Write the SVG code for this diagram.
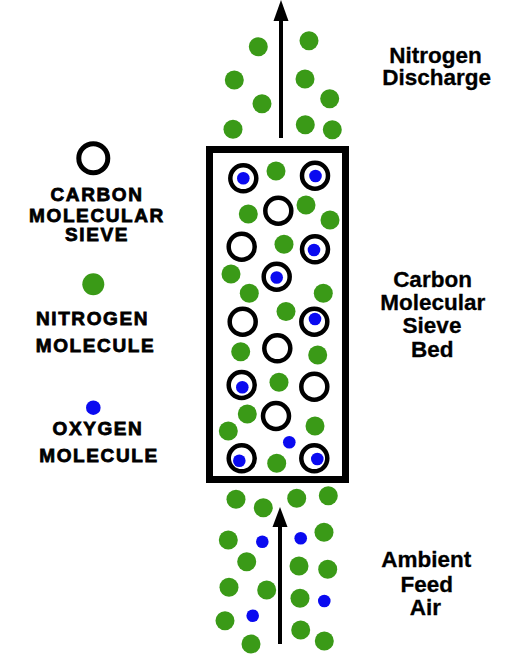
<svg xmlns="http://www.w3.org/2000/svg" width="528" height="655" viewBox="0 0 528 655">
<style>
.n{fill:#3a9a17}
.o{fill:#0a0af0}
.s{fill:none;stroke:#000;stroke-width:4.5}
.lg{font-family:"Liberation Sans",Arial,sans-serif;font-weight:bold;font-size:19px;letter-spacing:1.6px;text-anchor:middle;fill:#000;stroke:#000;stroke-width:0.8px}
.lb{font-family:"Liberation Sans",Arial,sans-serif;font-weight:bold;font-size:22.5px;text-anchor:middle;fill:#000;stroke:#000;stroke-width:0.3px}
</style>
<defs>
<circle id="N" r="9.5" class="n"/>
<circle id="O" r="6.3" class="o"/>
<circle id="S" r="13" class="s"/>
</defs>
<rect width="528" height="655" fill="#fff"/>

<g id="connectors">
<g id="arrow-discharge">
<line x1="281" y1="138" x2="281" y2="18" stroke="#000" stroke-width="4"/>
<polygon points="281,0 273.5,21 288.5,21" fill="#000"/>
</g>
<g id="arrow-feed">
<line x1="280" y1="644" x2="280" y2="522" stroke="#000" stroke-width="4"/>
<polygon points="280,507 272.5,527 287.5,527" fill="#000"/>
</g>
</g>

<g id="bed">
<rect x="209.5" y="149.5" width="136" height="330" fill="none" stroke="#000" stroke-width="7"/>
</g>

<g id="discharge-molecules">
<use href="#N" x="258.3" y="46.7"/>
<use href="#N" x="309" y="40.7"/>
<use href="#N" x="234.3" y="80"/>
<use href="#N" x="305" y="79"/>
<use href="#N" x="262" y="103.7"/>
<use href="#N" x="329.7" y="98.7"/>
<use href="#N" x="233" y="129.3"/>
<use href="#N" x="305.3" y="124.7"/>
<use href="#N" x="332.3" y="129.7"/>
</g>

<g id="bed-contents">
<use href="#S" x="243.3" y="178.3"/><use href="#O" x="243.3" y="178.3"/>
<use href="#N" x="276" y="171"/>
<use href="#S" x="315" y="175.7"/><use href="#O" x="315.5" y="176"/>
<use href="#S" x="278.3" y="210.7"/>
<use href="#N" x="306" y="205"/>
<use href="#N" x="248.3" y="214"/>
<use href="#N" x="330" y="220"/>
<use href="#S" x="241.7" y="246.7"/>
<use href="#N" x="284" y="244.3"/>
<use href="#S" x="315" y="249.3"/><use href="#O" x="314" y="250"/>
<use href="#N" x="231" y="274"/>
<use href="#S" x="276.7" y="276.7"/><use href="#O" x="276.7" y="277.5"/>
<use href="#N" x="249.3" y="293.3"/>
<use href="#N" x="323.3" y="293.3"/>
<use href="#N" x="286" y="311.5"/>
<use href="#S" x="242.7" y="321.7"/>
<use href="#S" x="314.3" y="321.7"/><use href="#O" x="315" y="319"/>
<use href="#N" x="240.7" y="351.7"/>
<use href="#S" x="277.3" y="348.3"/>
<use href="#N" x="317.7" y="355"/>
<use href="#S" x="241.7" y="385"/><use href="#O" x="242.3" y="387.3"/>
<use href="#N" x="279" y="382.3"/>
<use href="#S" x="314.3" y="386.7"/>
<use href="#N" x="247.3" y="414"/>
<use href="#S" x="276" y="416"/>
<use href="#N" x="228.3" y="431"/>
<use href="#N" x="315" y="426"/>
<use href="#O" x="289.3" y="442.3"/>
<use href="#S" x="241.7" y="458.3"/><use href="#O" x="239.3" y="460.7"/>
<use href="#N" x="276.7" y="463.3"/>
<use href="#S" x="314.3" y="458.3"/><use href="#O" x="317.3" y="459"/>
</g>

<g id="feed-molecules">
<use href="#N" x="236" y="499.3"/>
<use href="#N" x="263.3" y="507.7"/>
<use href="#N" x="296.7" y="498.3"/>
<use href="#N" x="328.3" y="495.7"/>
<use href="#N" x="228.3" y="540"/>
<use href="#O" x="262.3" y="541.7"/>
<use href="#O" x="300.7" y="538.3"/>
<use href="#N" x="324" y="532.3"/>
<use href="#N" x="246.7" y="561.7"/>
<use href="#N" x="299" y="566"/>
<use href="#N" x="327.7" y="569.3"/>
<use href="#N" x="229" y="587.3"/>
<use href="#N" x="266.7" y="590"/>
<use href="#N" x="300" y="598.3"/>
<use href="#O" x="324.3" y="601"/>
<use href="#N" x="225" y="620.7"/>
<use href="#O" x="252.7" y="615.7"/>
<use href="#N" x="300.7" y="630"/>
<use href="#N" x="251" y="644"/>
<use href="#N" x="324.3" y="641"/>
</g>

<g id="legend-sieve">
<circle cx="93.3" cy="158.3" r="14.5" fill="none" stroke="#000" stroke-width="5"/>
<text class="lg" x="97" y="201">CARBON</text>
<text class="lg" x="97" y="221.7">MOLECULAR</text>
<text class="lg" x="97" y="241">SIEVE</text>
</g>
<g id="legend-nitrogen">
<circle cx="93.3" cy="284.3" r="11" class="n"/>
<text class="lg" x="92.5" y="325">NITROGEN</text>
<text class="lg" x="95.5" y="351.7">MOLECULE</text>
</g>
<g id="legend-oxygen">
<circle cx="93.3" cy="407.7" r="7.3" class="o"/>
<text class="lg" x="98" y="435">OXYGEN</text>
<text class="lg" x="99" y="461.7">MOLECULE</text>
</g>

<g id="label-discharge">
<text class="lb" x="435.5" y="63.3">Nitrogen</text>
<text class="lb" x="436.7" y="85">Discharge</text>
</g>
<g id="label-bed">
<text class="lb" x="432.5" y="286.7">Carbon</text>
<text class="lb" x="432.8" y="310">Molecular</text>
<text class="lb" x="432" y="333.3">Sieve</text>
<text class="lb" x="432.2" y="356.7">Bed</text>
</g>
<g id="label-feed">
<text class="lb" x="426.2" y="566.7">Ambient</text>
<text class="lb" x="426.7" y="591.7">Feed</text>
<text class="lb" x="425.3" y="615">Air</text>
</g>
</svg>
